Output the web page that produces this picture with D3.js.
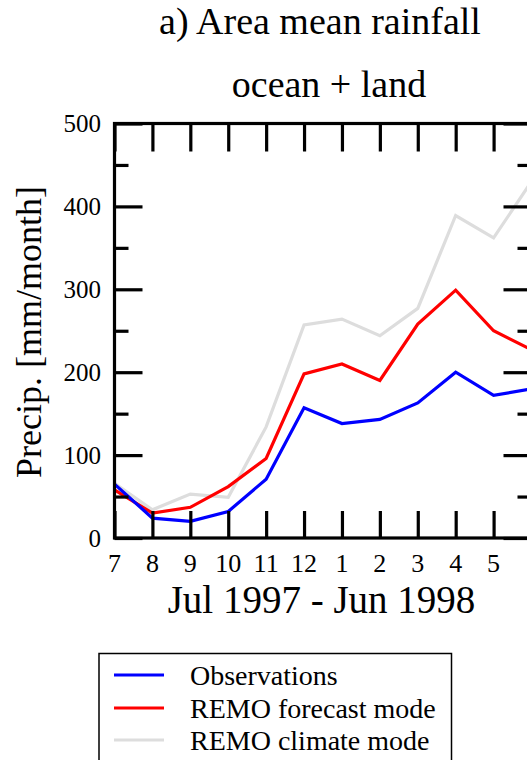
<!DOCTYPE html>
<html>
<head>
<meta charset="utf-8">
<script src="https://cdn.jsdelivr.net/npm/d3@7"></script>
<style>
  html, body { margin: 0; padding: 0; background: #fff; }
  svg { display: block; }
  text { font-family: "Liberation Serif", "Times New Roman", serif; fill: #000; }
</style>
</head>
<body>
<svg id="chart" width="527" height="760"></svg>
<script>
// ---- data ----
const months = ["7", "8", "9", "10", "11", "12", "1", "2", "3", "4", "5", "6"];
const observations = [65, 24, 20, 32, 71, 157, 138, 143, 163, 200, 172, 180];
const remoForecast = [58, 30, 37, 62, 96, 198, 210, 190, 258, 299, 250, 227];
const remoClimate  = [66, 34, 53, 49, 134, 257, 264, 244, 277, 389, 362, 430];
// labels visible in the (cropped) picture: the last month's label falls outside
const xTickLabels = ["7", "8", "9", "10", "11", "12", "1", "2", "3", "4", "5"];
const yTicksMajor = [0, 100, 200, 300, 400, 500];
const yTicksMinor = [50, 150, 250, 350, 450];
const seriesNames = ["Observations", "REMO forecast mode", "REMO climate mode"];
const seriesColors = ["#0000ff", "#ff0000", "#dddddd"];

(function () {
const svg = d3.select("#chart");
const pL = 114.5, pR = 531.5, pT = 123.5, pB = 538;

const x = d3.scaleLinear().domain([0, months.length - 1]).range([pL, pR]);
const y = d3.scaleLinear().domain([0, 500]).range([pB, pT]);

// titles
svg.append("text").attr("x", 320).attr("y", 34).attr("text-anchor", "middle")
  .attr("font-size", 38).text("a) Area mean rainfall");
svg.append("text").attr("x", 329).attr("y", 97).attr("text-anchor", "middle")
  .attr("font-size", 38).text("ocean + land");

// series lines (gray first so observations sit on top)
const line = d3.line().x((d, i) => x(i)).y(d => y(d));
const data = [observations, remoForecast, remoClimate];
[2, 1, 0].forEach(k => {
  svg.append("path").datum(data[k])
    .attr("d", line)
    .attr("fill", "none")
    .attr("stroke", seriesColors[k])
    .attr("stroke-width", 3.2)
    .attr("stroke-linejoin", "miter");
});

// axes frame
svg.append("rect").attr("x", pL).attr("y", pT).attr("width", pR - pL).attr("height", pB - pT)
  .attr("fill", "none").attr("stroke", "#000").attr("stroke-width", 3.2);

// x ticks (bottom and top, inward)
const gxb = svg.append("g").attr("transform", `translate(0,${pB})`)
  .call(d3.axisBottom(x).tickValues(d3.range(months.length)).tickSize(-27).tickFormat(""));
const gxt = svg.append("g").attr("transform", `translate(0,${pT})`)
  .call(d3.axisTop(x).tickValues(d3.range(months.length)).tickSize(-28).tickFormat(""));

// y ticks left / right: major and minor
const gyl = svg.append("g").attr("transform", `translate(${pL},0)`)
  .call(d3.axisLeft(y).tickValues(yTicksMajor).tickSize(-28).tickFormat(""));
const gylm = svg.append("g").attr("transform", `translate(${pL},0)`)
  .call(d3.axisLeft(y).tickValues(yTicksMinor).tickSize(-14).tickFormat(""));
const gyr = svg.append("g").attr("transform", `translate(${pR},0)`)
  .call(d3.axisRight(y).tickValues(yTicksMajor).tickSize(-28).tickFormat(""));
const gyrm = svg.append("g").attr("transform", `translate(${pR},0)`)
  .call(d3.axisRight(y).tickValues(yTicksMinor).tickSize(-14).tickFormat(""));

[gxb, gxt, gyl, gylm, gyr, gyrm].forEach(g => {
  g.select(".domain").remove();
  g.selectAll(".tick line").attr("stroke", "#000").attr("stroke-width", 3.2);
});

// tick labels
svg.append("g").selectAll("text").data(yTicksMajor).join("text")
  .attr("x", 101).attr("y", d => y(d) + 8.5)
  .attr("text-anchor", "end").attr("font-size", 25)
  .text(d => d);
svg.append("g").selectAll("text").data(xTickLabels).join("text")
  .attr("x", (d, i) => x(i)).attr("y", 572)
  .attr("text-anchor", "middle").attr("font-size", 26)
  .text(d => d);

// axis titles
svg.append("text").attr("transform", "translate(41,332) rotate(-90)")
  .attr("text-anchor", "middle").attr("font-size", 36).text("Precip. [mm/month]");
svg.append("text").attr("x", 321.5).attr("y", 613).attr("text-anchor", "middle")
  .attr("font-size", 39).text("Jul 1997 - Jun 1998");

// legend
const lg = svg.append("g");
lg.append("rect").attr("x", 99).attr("y", 653.5).attr("width", 352.5).attr("height", 120)
  .attr("fill", "#fff").attr("stroke", "#000").attr("stroke-width", 1.5);
const legY = [675, 708, 740];
seriesNames.forEach((name, i) => {
  lg.append("line").attr("x1", 114).attr("x2", 164).attr("y1", legY[i]).attr("y2", legY[i])
    .attr("stroke", seriesColors[i]).attr("stroke-width", 3.2);
  lg.append("text").attr("x", 190).attr("y", legY[i] + 10).attr("font-size", 28).text(name);
});
})();
</script>
</body>
</html>
